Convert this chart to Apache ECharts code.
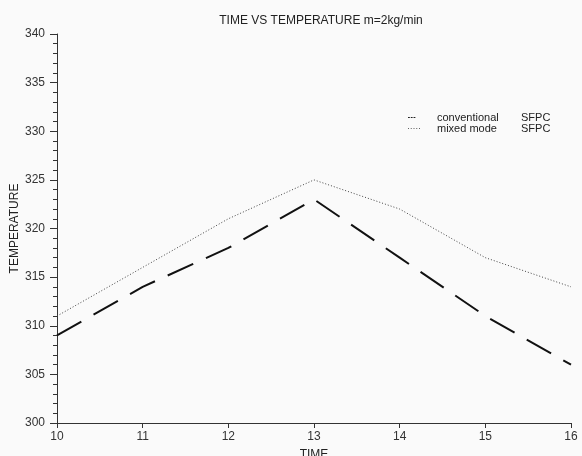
<!DOCTYPE html>
<html>
<head>
<meta charset="utf-8">
<script src="https://cdn.jsdelivr.net/npm/echarts@6/dist/echarts.min.js"></script>
<style>
  html, body { margin: 0; padding: 0; background: #fafafa; }
  #chart { width: 582px; height: 456px; }
</style>
</head>
<body>
<div id="chart"></div>
<script>
  // data
  var time = [10, 11, 12, 13, 14, 15, 16];
  var conventional = [309, 314, 318, 323, 317, 311, 306];
  var mixedMode = [311, 316, 321, 325, 322, 317, 314];
  var xTicks = [10, 11, 12, 13, 14, 15, 16];
  var yTicks = [300, 305, 310, 315, 320, 325, 330, 335, 340];

  function pairs(xs, ys) {
    return xs.map(function (x, i) { return [x, ys[i]]; });
  }

  var myChart = echarts.init(document.getElementById("chart"));
  var font = "Liberation Sans, Arial, sans-serif";

  var option = {
    backgroundColor: "#fafafa",
    animation: false,
    textStyle: { fontFamily: font },
    title: {
      text: "TIME VS TEMPERATURE m=2kg/min",
      left: 316,
      textAlign: "center",
      top: 10,
      textStyle: { fontSize: 12, fontWeight: "normal", color: "#222", fontFamily: font }
    },
    legend: {
      orient: "vertical",
      left: 403,
      top: 107,
      itemGap: 0,
      itemWidth: 12,
      itemHeight: 2,
      textStyle: {
        fontSize: 11,
        color: "#222",
        fontFamily: font,
        lineHeight: 11,
        rich: {
          a: { width: 84, fontSize: 11, color: "#222", padding: [0, 0, 0, 12] },
          b: { fontSize: 11, color: "#222" }
        }
      },
      formatter: function (name) { return "{a|" + name + "}{b|SFPC}"; },
      data: [
        {
          name: "conventional",
          icon: "path://M0,0h2v1h-2z M3,0h2v1h-2z M6,0h2v1h-2z M13,0h0.01v1h-0.01z",
          itemStyle: { color: "#222" }
        },
        {
          name: "mixed mode",
          icon: "path://M0,0h1v1h-1z M3,0h1v1h-1z M6,0h1v1h-1z M9,0h1v1h-1z M12,0h1v1h-1z",
          itemStyle: { color: "#555" }
        }
      ]
    },
    // fixed plot box, labels may run off the canvas like in the original
    grid: { left: 57, right: 11, top: 34, bottom: 33, outerBoundsMode: "none" },
    xAxis: {
      type: "value",
      min: xTicks[0],
      max: xTicks[xTicks.length - 1],
      interval: 1,
      name: "TIME",
      nameLocation: "middle",
      nameGap: 26,
      nameMoveOverlap: false,
      nameTextStyle: { fontSize: 12, color: "#222" },
      axisLine: { lineStyle: { color: "#333", width: 1 } },
      axisTick: { show: true, length: 5, lineStyle: { color: "#333" } },
      axisLabel: { fontSize: 12, color: "#333", margin: 8 },
      splitLine: { show: false }
    },
    yAxis: {
      type: "value",
      min: yTicks[0],
      max: yTicks[yTicks.length - 1],
      interval: 5,
      name: "TEMPERATURE",
      nameLocation: "middle",
      nameGap: 36,
      nameMoveOverlap: false,
      nameTextStyle: { fontSize: 12, color: "#222" },
      axisLine: { show: true, lineStyle: { color: "#333", width: 1 } },
      axisTick: { show: true, length: 7, lineStyle: { color: "#333" } },
      minorTick: { show: true, splitNumber: 5, length: 4, lineStyle: { color: "#333" } },
      axisLabel: { fontSize: 12, color: "#333", margin: 12 },
      splitLine: { show: false }
    },
    series: [
      {
        name: "conventional",
        type: "line",
        data: pairs(time, conventional),
        showSymbol: false,
        symbol: "none",
        color: "#111",
        lineStyle: { color: "#111", width: 2, type: [28, 14] }
      },
      {
        name: "mixed mode",
        type: "line",
        data: pairs(time, mixedMode),
        showSymbol: false,
        symbol: "none",
        color: "#444",
        lineStyle: { color: "#444", width: 1, type: [1, 2] }
      }
    ]
  };

  myChart.setOption(option);
</script>
</body>
</html>
